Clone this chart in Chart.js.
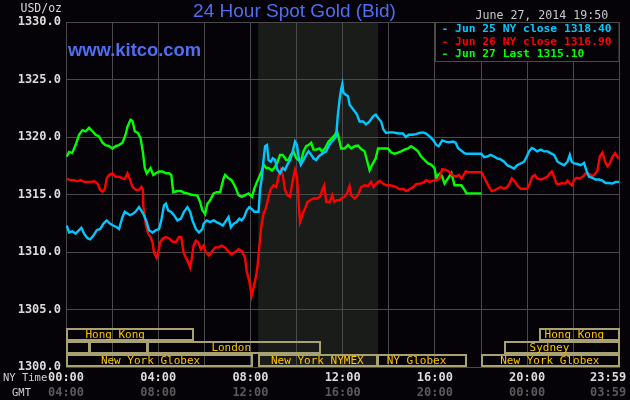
<!DOCTYPE html>
<html>
<head>
<meta charset="utf-8">
<title>24 Hour Spot Gold (Bid)</title>
<script src="https://cdn.jsdelivr.net/npm/chart.js@4.4.1/dist/chart.umd.min.js"></script>
<style>
  html, body { margin: 0; padding: 0; background: #050308; }
  canvas { display: block; }
</style>
</head>
<body>
<canvas id="goldChart" width="630" height="400"></canvas>
<script>
// minutes after 00:00 NY time, bid in USD/oz
const jun25Time = [2,8,16,25,34,40,47,56,63,71,80,89,97,106,115,123,132,138,147,153,160,167,175,181,190,196,203,210,216,225,234,242,248,255,260,266,273,281,290,299,307,316,323,329,338,346,355,358,366,375,384,392,401,408,417,423,429,436,444,451,457,464,470,477,483,490,497,501,505,510,514,518,523,527,533,538,544,550,557,564,570,576,583,590,596,601,605,611,618,625,631,638,644,651,657,663,670,677,683,689,696,703,707,712,716,719,722,727,734,738,745,751,757,764,773,781,790,799,806,812,820,826,833,842,851,859,868,877,884,892,901,911,920,929,937,946,955,964,970,979,988,996,1007,1014,1020,1029,1037,1042,1081,1088,1096,1105,1114,1122,1131,1140,1148,1157,1166,1174,1183,1192,1199,1205,1212,1218,1226,1235,1244,1253,1261,1270,1279,1287,1296,1305,1311,1316,1322,1331,1339,1348,1354,1361,1370,1378,1387,1396,1404,1413,1422,1430,1439];
const jun25Bid = [1312.3,1311.7,1311.8,1311.6,1311.9,1312.1,1311.6,1311.2,1311.1,1311.4,1311.9,1312.0,1312.45,1312.75,1312.45,1312.3,1312.15,1312.0,1313.05,1313.5,1313.35,1313.2,1313.35,1313.5,1313.9,1313.6,1313.2,1312.6,1311.9,1311.7,1311.9,1312.0,1312.75,1314.05,1314.2,1313.6,1313.5,1313.2,1312.75,1312.9,1313.5,1313.9,1313.5,1312.75,1312.0,1311.7,1312.0,1312.45,1312.75,1312.6,1312.75,1312.6,1312.45,1312.3,1312.75,1313.05,1312.15,1312.45,1312.6,1312.9,1312.75,1313.05,1313.6,1313.9,1313.75,1313.5,1313.5,1313.5,1315.4,1316.55,1318.0,1319.2,1319.3,1318.0,1317.85,1318.15,1318.0,1317.15,1316.85,1317.3,1317.15,1317.6,1318.0,1318.75,1319.6,1319.3,1318.3,1317.6,1318.0,1318.45,1318.75,1318.45,1318.15,1318.0,1318.3,1318.45,1318.6,1318.75,1319.2,1319.5,1319.75,1320.05,1321.8,1323.3,1324.15,1324.6,1323.85,1323.7,1323.55,1322.8,1322.5,1322.25,1321.95,1321.35,1321.35,1321.1,1321.35,1321.8,1321.95,1321.65,1321.35,1320.65,1320.35,1320.4,1320.4,1320.35,1320.3,1320.3,1320.0,1320.2,1320.2,1320.25,1320.35,1320.4,1320.3,1320.05,1319.75,1319.3,1319.2,1319.7,1319.6,1319.55,1319.6,1319.5,1319.05,1318.8,1318.6,1318.55,1318.55,1318.25,1318.3,1318.45,1318.3,1318.15,1318.05,1317.85,1317.55,1317.4,1317.25,1317.55,1317.7,1317.85,1318.3,1318.75,1319.05,1318.95,1318.75,1318.9,1318.75,1318.75,1318.6,1318.45,1317.85,1317.7,1317.55,1317.85,1318.45,1317.85,1317.7,1317.65,1317.55,1317.75,1317.1,1316.55,1316.45,1316.3,1316.3,1316.2,1316.0,1316.0,1315.95,1316.1,1316.1];

const jun26Time = [2,12,21,30,38,47,56,64,73,82,89,95,101,106,112,121,129,138,147,153,160,167,173,182,190,196,200,201,208,214,220,225,229,236,240,245,251,260,268,277,286,294,300,306,312,318,323,327,332,338,344,351,358,362,371,379,388,397,405,414,423,431,440,449,457,466,470,477,483,488,492,498,503,508,514,521,527,533,540,547,553,559,564,570,576,583,590,596,601,605,609,616,622,628,635,644,653,661,668,672,677,686,693,698,705,712,716,725,731,738,742,751,760,768,777,786,794,800,807,816,825,833,842,851,859,868,877,885,894,903,911,920,929,937,946,955,964,972,979,988,996,1005,1014,1023,1029,1035,1040,1046,1081,1088,1094,1101,1108,1114,1122,1131,1140,1148,1154,1160,1166,1174,1183,1192,1200,1207,1213,1220,1226,1235,1244,1253,1259,1264,1270,1276,1283,1290,1299,1305,1311,1316,1322,1328,1337,1345,1352,1361,1370,1377,1383,1389,1396,1403,1409,1415,1422,1429,1435,1439];
const jun26Bid = [1316.35,1316.25,1316.25,1316.15,1316.25,1316.1,1316.1,1316.1,1316.15,1315.95,1315.4,1315.25,1315.5,1316.4,1316.7,1316.85,1316.55,1316.55,1316.4,1316.35,1316.85,1316.25,1315.65,1315.4,1315.4,1315.65,1315.4,1314.05,1312.3,1311.6,1311.3,1310.85,1309.95,1309.5,1309.95,1310.85,1311.15,1311.3,1311.2,1310.9,1310.85,1311.3,1311.3,1309.95,1309.5,1309.1,1308.65,1309.4,1310.55,1311.0,1310.85,1310.25,1310.55,1310.1,1309.7,1310.0,1310.4,1310.4,1310.55,1310.4,1310.0,1309.8,1310.0,1310.25,1310.1,1309.5,1308.35,1307.45,1306.2,1306.9,1307.45,1308.65,1310.4,1312.15,1313.35,1313.9,1314.8,1315.5,1315.8,1315.65,1316.55,1317.15,1316.7,1315.4,1314.95,1314.8,1316.25,1317.15,1316.55,1314.5,1312.6,1313.35,1313.75,1314.35,1314.5,1314.65,1314.65,1314.8,1315.5,1315.8,1314.35,1314.35,1314.95,1314.35,1314.5,1314.5,1314.65,1314.8,1315.1,1315.75,1314.95,1314.65,1314.95,1315.65,1315.8,1315.75,1316.1,1315.65,1315.95,1316.2,1315.95,1315.8,1315.8,1315.75,1315.65,1315.45,1315.5,1315.3,1315.45,1315.65,1315.9,1315.95,1316.0,1316.25,1316.1,1316.2,1316.25,1316.4,1317.2,1317.15,1317.0,1316.7,1316.55,1316.7,1316.4,1316.7,1317.0,1316.95,1316.95,1316.5,1316.1,1315.65,1315.3,1315.35,1315.5,1315.65,1315.5,1315.65,1315.95,1316.4,1316.2,1315.8,1315.5,1315.5,1315.5,1315.95,1316.55,1316.7,1316.4,1316.3,1316.4,1316.55,1316.85,1317.0,1316.55,1315.95,1315.9,1316.0,1315.95,1316.2,1315.95,1315.8,1316.25,1316.45,1316.4,1316.55,1316.85,1316.8,1316.6,1316.8,1317.1,1318.3,1318.65,1317.85,1317.45,1317.7,1318.3,1318.6,1318.25,1318.15];

const jun27Time = [2,8,16,25,34,43,51,60,69,77,86,95,103,112,121,129,138,147,155,160,168,173,179,187,194,200,205,210,216,220,227,234,242,251,260,268,274,279,290,299,307,316,325,333,342,349,355,358,362,368,375,384,392,401,410,414,423,431,440,449,457,466,475,484,490,497,503,510,514,521,527,536,542,549,557,564,573,579,585,592,599,605,611,618,625,631,638,644,651,660,666,674,683,692,700,705,710,716,725,734,742,751,760,768,777,783,790,797,806,812,820,829,838,846,855,864,872,881,890,898,907,916,924,933,942,950,959,964,968,974,979,985,994,1003,1011,1020,1029,1037,1042,1081];
const jun27Bid = [1318.3,1318.7,1318.6,1319.3,1320.2,1320.6,1320.5,1320.8,1320.5,1320.2,1320.05,1319.5,1319.3,1319.2,1319.0,1319.2,1319.3,1319.5,1320.2,1320.9,1321.5,1321.4,1320.5,1320.35,1319.9,1318.7,1317.3,1316.85,1317.1,1317.3,1316.7,1316.85,1317.0,1317.0,1316.85,1316.85,1316.7,1315.2,1315.3,1315.3,1315.15,1315.1,1315.0,1314.95,1314.9,1314.35,1313.6,1313.5,1313.3,1314.2,1314.5,1315.1,1315.2,1315.2,1316.4,1316.7,1316.4,1316.25,1315.7,1314.95,1314.8,1314.95,1315.1,1314.8,1315.5,1316.1,1316.55,1317.1,1317.6,1317.3,1317.3,1317.1,1317.3,1317.7,1318.45,1318.45,1318.0,1318.0,1318.45,1318.75,1318.15,1318.0,1317.8,1318.75,1319.2,1319.3,1319.5,1318.9,1318.9,1319.0,1318.75,1319.0,1319.6,1319.9,1320.2,1320.5,1319.9,1319.0,1319.0,1319.3,1319.0,1319.2,1319.25,1318.95,1318.75,1318.0,1317.1,1317.6,1318.15,1319.0,1319.0,1319.0,1319.0,1318.65,1318.55,1318.65,1318.75,1318.9,1319.0,1319.2,1319.0,1318.75,1318.3,1318.0,1317.7,1317.6,1317.3,1316.4,1316.7,1316.85,1316.55,1315.95,1316.4,1316.85,1315.8,1315.8,1315.8,1315.4,1315.1,1315.1];

const seriesLabels = ['Jun 25 NY close 1318.40', 'Jun 26 NY close 1316.90', 'Jun 27 Last 1315.10'];
const seriesColors = ['#00c8ff', '#ff0000', '#00ff00'];

const xTickMinutes = [0, 120, 240, 360, 480, 600, 720, 840, 960, 1080, 1200, 1320, 1439];
const nyTimeLabels = ['00:00', '', '04:00', '', '08:00', '', '12:00', '', '16:00', '', '20:00', '', '23:59   '];
const gmtLabels = ['04:00', '', '08:00', '', '12:00', '', '16:00', '', '20:00', '', '00:00', '', '03:59   '];

// trading sessions (row 0 = top row of boxes)
const sessionName = ['Hong Kong', 'Hong Kong', '', '', 'London', 'Sydney', 'New York Globex', 'New York NYMEX', 'NY Globex', 'New York Globex'];
const sessionRow = [0, 0, 1, 1, 1, 1, 2, 2, 2, 2];
const sessionStart = [0, 1230, 0, 60, 210, 1140, 0, 500, 810, 1080];
const sessionEnd = [330, 1439, 60, 210, 660, 1439, 485, 810, 1040, 1439];
const sessionLabelAt = [128, 1323, 0, 0, 430, 1258, 220, 654, 912, 1259];
const nymexFloor = [500, 812];

const gridColor = '#4a4a4a';
const monoFont = 'DejaVu Sans Mono';

const toPoints = (times, values) => times.map((m, i) => ({ x: m, y: values[i] }));

const kitcoDecor = {
  id: 'kitcoDecor',
  beforeDraw(chart) {
    const { ctx, chartArea: a, scales: { x } } = chart;
    ctx.save();
    ctx.fillStyle = '#050308';
    ctx.fillRect(0, 0, chart.width, chart.height);
    // NYMEX floor hours
    const x1 = x.getPixelForValue(nymexFloor[0]);
    const x2 = x.getPixelForValue(nymexFloor[1]);
    ctx.fillStyle = '#191c19';
    ctx.fillRect(x1, a.top, x2 - x1, a.bottom - a.top);
    ctx.restore();
  },
  beforeDatasetsDraw(chart) {
    const { ctx, chartArea: a, scales: { x } } = chart;
    ctx.save();
    ctx.strokeStyle = '#a8a272';
    ctx.lineWidth = 2;
    ctx.font = '11px "' + monoFont + '"';
    ctx.fillStyle = '#ffc400';
    ctx.textAlign = 'center';
    ctx.textBaseline = 'alphabetic';
    sessionName.forEach((name, i) => {
      const top = Math.round(a.bottom) - 39 + 13 * sessionRow[i];
      const x1 = Math.round(x.getPixelForValue(sessionStart[i]));
      const x2 = Math.round(x.getPixelForValue(sessionEnd[i]));
      ctx.strokeRect(x1 + 1, top + 1, x2 - x1 - 1, 11);
      if (name) ctx.fillText(name, x.getPixelForValue(sessionLabelAt[i]), top + 10);
    });
    ctx.restore();
  },
  afterDatasetsDraw(chart) {
    const { ctx, chartArea: a } = chart;
    // legend box, top right
    ctx.save();
    ctx.fillStyle = '#050308';
    ctx.fillRect(436, a.top + 1, a.right - 436, 38);
    ctx.strokeStyle = gridColor;
    ctx.lineWidth = 1;
    ctx.strokeRect(435.5, a.top + 0.5, a.right - 435.5, 39);
    ctx.font = 'bold 11.3px "' + monoFont + '"';
    ctx.textBaseline = 'middle';
    ctx.textAlign = 'left';
    chart.data.datasets.forEach((ds, i) => {
      ctx.fillStyle = ds.borderColor;
      ctx.fillText('- ' + ds.label, 441.5, 29.5 + i * 12.3);
    });
    ctx.restore();
  },
  afterDraw(chart) {
    const { ctx } = chart;
    ctx.save();
    ctx.textBaseline = 'alphabetic';
    ctx.textAlign = 'center';
    ctx.fillStyle = '#4f6ef2';
    ctx.font = '19px "Liberation Sans"';
    ctx.fillText('24 Hour Spot Gold (Bid)', 294.5, 17);
    ctx.textAlign = 'left';
    ctx.font = 'bold 18.4px "Liberation Sans"';
    ctx.fillText('www.kitco.com', 68, 56);
    ctx.fillStyle = '#c8c8c8';
    ctx.font = '11.6px "' + monoFont + '"';
    ctx.fillText('June 27, 2014 19:50', 475.5, 19);
    ctx.fillStyle = '#d8d8d8';
    ctx.font = '11.5px "' + monoFont + '"';
    ctx.fillText('USD/oz', 20.5, 12.3);
    ctx.textBaseline = 'middle';
    ctx.font = '10.5px "' + monoFont + '"';
    ctx.fillStyle = '#d0d0d0';
    ctx.fillText('NY Time', 3, 378);
    ctx.fillText('GMT', 12, 393.5);
    ctx.restore();
  }
};

const lineSet = (i, times, values) => ({
  label: seriesLabels[i],
  data: toPoints(times, values),
  borderColor: seriesColors[i],
  backgroundColor: seriesColors[i],
  borderWidth: 2.4,
  pointRadius: 0,
  tension: 0,
  fill: false
});

new Chart(document.getElementById('goldChart'), {
  type: 'line',
  data: {
    datasets: [
      lineSet(0, jun25Time, jun25Bid),
      lineSet(1, jun26Time, jun26Bid),
      lineSet(2, jun27Time, jun27Bid)
    ]
  },
  options: {
    responsive: false,
    animation: false,
    devicePixelRatio: 1,
    layout: { padding: { top: 22, right: 11, left: 0, bottom: 0 } },
    plugins: {
      legend: { display: false },
      title: { display: false },
      tooltip: { enabled: false }
    },
    scales: {
      x: {
        type: 'linear',
        position: 'bottom',
        weight: 0,
        min: 0,
        max: 1439,
        afterBuildTicks: (s) => { s.ticks = xTickMinutes.map((v) => ({ value: v })); },
        afterFit: (s) => { s.height = 16; s.paddingLeft = 0; s.paddingRight = 0; },
        grid: { color: gridColor, drawTicks: false },
        border: { color: gridColor },
        ticks: {
          autoSkip: false,
          maxRotation: 0,
          padding: 4,
          color: '#dcdcdc',
          font: { family: monoFont, size: 12, weight: 'bold' },
          callback: (v, i) => nyTimeLabels[i]
        }
      },
      gmt: {
        type: 'linear',
        position: 'bottom',
        weight: 1,
        min: 0,
        max: 1439,
        afterBuildTicks: (s) => { s.ticks = xTickMinutes.map((v) => ({ value: v })); },
        afterFit: (s) => { s.height = 17; s.paddingLeft = 0; s.paddingRight = 0; },
        grid: { display: false, drawTicks: false },
        border: { display: false },
        ticks: {
          autoSkip: false,
          maxRotation: 0,
          padding: 3,
          color: '#5a5a5a',
          font: { family: monoFont, size: 12, weight: 'bold' },
          callback: (v, i) => gmtLabels[i]
        }
      },
      y: {
        min: 1300,
        max: 1330,
        afterFit: (s) => { s.width = 66; },
        grid: { color: gridColor, drawTicks: false },
        border: { color: gridColor },
        ticks: {
          stepSize: 5,
          padding: 5,
          color: '#dcdcdc',
          font: { family: monoFont, size: 12, weight: 'bold' },
          callback: (v) => v.toFixed(1)
        }
      }
    }
  },
  plugins: [kitcoDecor]
});
</script>
</body>
</html>
